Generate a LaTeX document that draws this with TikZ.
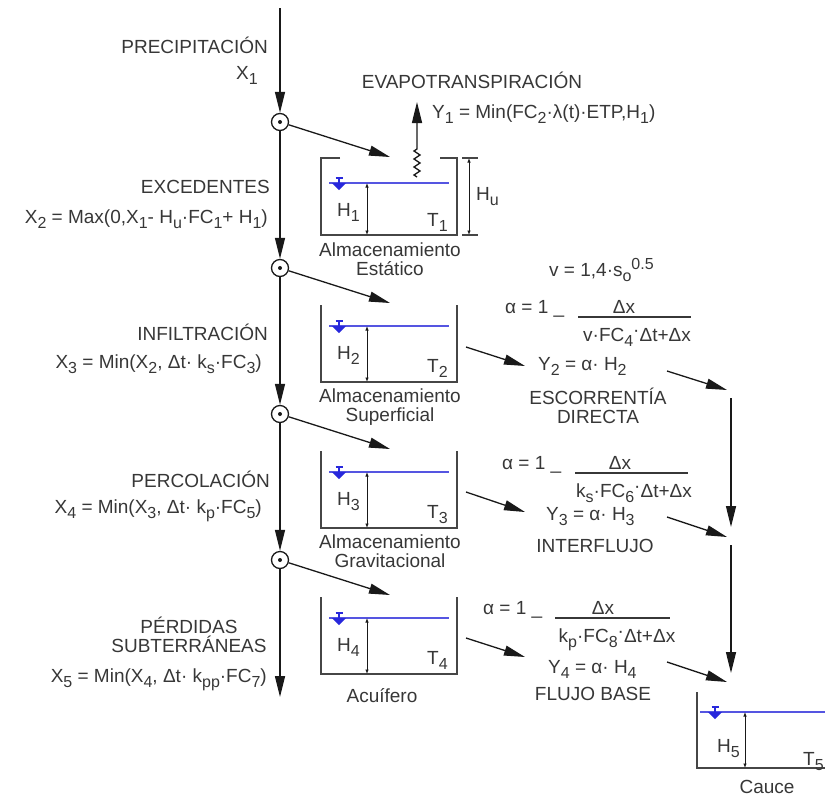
\documentclass[tikz,border=0pt]{standalone}
\usepackage{fontspec}
\setmainfont{Liberation Sans}
\usetikzlibrary{
    arrows.meta,
    decorations.pathmorphing
}
\definecolor{txtgray}{RGB}{55,55,55}
\definecolor{linedark}{RGB}{25,25,25}
\definecolor{wallgray}{RGB}{70,70,70}
\definecolor{waterblue}{RGB}{85,85,225}
\definecolor{gaugeblue}{RGB}{40,40,220}

\newcommand{\subx}[1]{\raisebox{-5pt}{\fontsize{16}{16}\selectfont #1}}
\newcommand{\supx}[1]{\raisebox{7pt}{\fontsize{16}{16}\selectfont #1}}

\begin{document}
\begin{tikzpicture}[
        x=1pt, y=-1pt,
        lbl/.style={
            inner sep=0pt,
            text=txtgray,
            font=\fontsize{19}{19}\selectfont
        },
        tanklbl/.style={
            lbl,
            align=center
        },
        flow/.style={
            -{Triangle[length=21pt,width=10pt]},
            line width=1.3pt,
            draw=linedark
        },
        joint/.style={
            circle,
            draw=linedark,
            fill=white,
            line width=1.3pt,
            minimum size=17pt,
            inner sep=0pt,
            path picture={\fill[linedark] (path picture bounding box.center) circle (2pt);}
        },
        wall/.style={draw=wallgray, line width=1.7pt},
        water/.style={draw=waterblue, line width=1.4pt},
        depth/.style={
            {Latex[length=4.5pt,width=3.5pt]}-{Latex[length=4.5pt,width=3.5pt]},
            line width=0.8pt,
            draw=linedark
        },
        fracbar/.style={draw=txtgray, line width=1.4pt},
        gauge/.pic={
            \fill[gaugeblue] (-7,0) -- (7,0) -- (0,7) -- cycle;
            \draw[gaugeblue, line width=1.2pt] (0,0) -- (0,-5) (-3.5,-5) -- (3.5,-5);
        }
    ]
    \useasboundingbox (0,0) rectangle (825,796);

    % main vertical flow
    \coordinate (top) at (280,8);
    \node[joint] (c1) at (280,122) {};
    \node[joint] (c2) at (280,268) {};
    \node[joint] (c3) at (280,414) {};
    \node[joint] (c4) at (280,560) {};
    \coordinate (bot) at (280,697);

    \draw[flow] (top) -- (c1);
    \draw[flow] (c1) -- (c2);
    \draw[flow] (c2) -- (c3);
    \draw[flow] (c3) -- (c4);
    \draw[flow] (c4) -- (bot);

    % left labels
    \node[lbl, anchor=base east] (prec) at (268,53) {PRECIPITACIÓN};
    \node[lbl, anchor=base east] (x1) at (258,79) {X\subx{1}};
    \node[lbl, anchor=base east] (exce) at (270,193) {EXCEDENTES};
    \node[lbl, anchor=base east] (x2) at (268,223) {X\subx{2} = Max(0,X\subx{1}- H\subx{u}·FC\subx{1}+ H\subx{1})};
    \node[lbl, anchor=base east] (infi) at (268,340) {INFILTRACIÓN};
    \node[lbl, anchor=base east] (x3) at (262,368) {X\subx{3} = Min(X\subx{2}, Δt· k\subx{s}·FC\subx{3})};
    \node[lbl, anchor=base east] (perc) at (270,487) {PERCOLACIÓN};
    \node[lbl, anchor=base east] (x4) at (262,513) {X\subx{4} = Min(X\subx{3}, Δt· k\subx{p}·FC\subx{5})};
    \node[tanklbl, anchor=base] (perd) at (189,652) {PÉRDIDAS\\SUBTERRÁNEAS};
    \node[lbl, anchor=base east] (x5) at (267,682) {X\subx{5} = Min(X\subx{4}, Δt· k\subx{pp}·FC\subx{7})};

    % tank 1 (static storage)
    \draw[wall] (340,158) -- (321,158) |- (457,235) -- (457,158) -- (440,158);
    \draw[water] (329,183) -- (449,183);
    \pic at (339,183) {gauge};
    \draw[depth] (367,183) -- (367,235);
    \node[lbl, anchor=base west] (h1) at (337,216) {H\subx{1}};
    \node[lbl, anchor=base west] (t1) at (427,226) {T\subx{1}};
    \draw[depth] (469,158) -- (469,235);
    \draw[wall, line width=1.2pt] (462,158) -- (478,158) (462,235) -- (478,235);
    \node[lbl, anchor=base west] (hu) at (476,200) {H\subx{u}};
    \node[tanklbl, anchor=base] (alm1) at (390,275) {Almacenamiento\\Estático};

    % tanks 2 to 4
    \foreach \k/\yt in {2/305, 3/451, 4/597}{
        \draw[wall] (321,\yt) |- (457,\yt+77) -- (457,\yt);
        \draw[water] (329,\yt+21) -- (449,\yt+21);
        \pic at (339,\yt+21) {gauge};
        \draw[depth] (367,\yt+21) -- (367,\yt+77);
        \node[lbl, anchor=base west] (h\k) at (337,\yt+54) {H\subx{\k}};
        \node[lbl, anchor=base west] (t\k) at (427,\yt+67) {T\subx{\k}};
    }
    \node[tanklbl, anchor=base] (alm2) at (390,421) {Almacenamiento\\Superficial};
    \node[tanklbl, anchor=base] (alm3) at (390,567) {Almacenamiento\\Gravitacional};
    \node[lbl, anchor=base] (acui) at (382,702) {Acuífero};

    % inflow into the tanks
    \coordinate (in1) at (390,157);
    \coordinate (in2) at (390,303);
    \coordinate (in3) at (390,449);
    \coordinate (in4) at (390,595);
    \draw[flow] (c1) -- (in1);
    \draw[flow] (c2) -- (in2);
    \draw[flow] (c3) -- (in3);
    \draw[flow] (c4) -- (in4);

    % evapotranspiration
    \coordinate (ev0) at (417,177);
    \coordinate (ev1) at (417,102);
    \draw[flow, decorate, decoration={zigzag, amplitude=3pt, segment length=8pt, post length=47pt}] (ev0) -- (ev1);
    \node[lbl, anchor=base] (evap) at (472,88) {EVAPOTRANSPIRACIÓN};
    \node[lbl, anchor=base west] (y1) at (432,118) {Y\subx{1} = Min(FC\subx{2}·λ(t)·ETP,H\subx{1})};

    % outflows
    \node[lbl, anchor=base west] (vel) at (549,276) {v = 1,4·s\subx{o}\supx{0.5}};

    \node[lbl, anchor=base west] (a2) at (505,313) {α = 1 \_};
    \node[lbl, anchor=base] (n2) at (624,313) {Δx};
    \draw[fracbar] (578,317) -- (691,317);
    \node[lbl, anchor=base] (d2) at (637,341) {v·FC\subx{4}\raisebox{5pt}{·}Δt+Δx};
    \node[lbl, anchor=base west] (y2) at (538,370) {Y\subx{2} = α· H\subx{2}};
    \node[tanklbl, anchor=base] (esco) at (598,423) {ESCORRENTÍA\\DIRECTA};

    \node[lbl, anchor=base west] (a3) at (502,469) {α = 1 \_};
    \node[lbl, anchor=base] (n3) at (620,469) {Δx};
    \draw[fracbar] (575,473) -- (688,473);
    \node[lbl, anchor=base] (d3) at (634,497) {k\subx{s}·FC\subx{6}\raisebox{5pt}{·}Δt+Δx};
    \node[lbl, anchor=base west] (y3) at (546,520) {Y\subx{3} = α· H\subx{3}};
    \node[lbl, anchor=base] (inte) at (595,552) {INTERFLUJO};

    \node[lbl, anchor=base west] (a4) at (483,614) {α = 1 \_};
    \node[lbl, anchor=base] (n4) at (603,614) {Δx};
    \draw[fracbar] (555,618) -- (670,618);
    \node[lbl, anchor=base] (d4) at (617,642) {k\subx{p}·FC\subx{8}\raisebox{5pt}{·}Δt+Δx};
    \node[lbl, anchor=base west] (y4) at (548,673) {Y\subx{4} = α· H\subx{4}};
    \node[lbl, anchor=base] (flub) at (593,700) {FLUJO BASE};

    \foreach \k/\ya/\yb/\yc/\yd in {2/347/366/371/390, 3/492/512/517/537, 4/638/657/662/682}{
        \coordinate (out\k) at (466,\ya);
        \coordinate (yin\k) at (525,\yb);
        \coordinate (yout\k) at (667,\yc);
        \coordinate (col\k) at (727,\yd);
        \draw[flow] (out\k) -- (yin\k);
        \draw[flow] (yout\k) -- (col\k);
    }
    \coordinate (k2) at (731,390);
    \coordinate (k3) at (731,537);
    \coordinate (k4) at (731,682);
    \draw[flow, shorten <=8pt, shorten >=10pt] (k2) -- (k3);
    \draw[flow, shorten <=8pt, shorten >=9pt] (k3) -- (k4);

    % channel
    \draw[wall] (697,692) |- (826,768);
    \draw[water] (700,712) -- (826,712);
    \pic at (715,712) {gauge};
    \draw[depth] (745,712) -- (745,768);
    \node[lbl, anchor=base west] (h5) at (717,752) {H\subx{5}};
    \node[lbl, anchor=base west] (t5) at (803,765) {T\subx{5}};
    \node[lbl, anchor=base] (cauce) at (767,793) {Cauce};

    \end{tikzpicture}
\end{document}
